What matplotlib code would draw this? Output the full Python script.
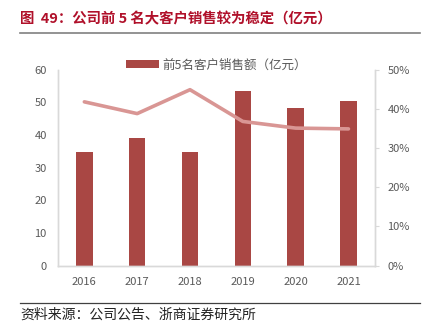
import matplotlib
matplotlib.use('Agg')
import matplotlib.pyplot as plt
from matplotlib.ticker import PercentFormatter
from matplotlib.lines import Line2D

plt.rcParams['font.family'] = ['Noto Sans CJK SC', 'DejaVu Sans']

# data
years = ['2016', '2017', '2018', '2019', '2020', '2021']
sales = [34.7, 39.2, 34.7, 53.4, 48.2, 50.4]      # 亿元
share = [41.8, 38.8, 44.9, 36.8, 35.1, 34.9]      # %

bar_color = '#A94744'
line_color = '#D99694'
grey = '#595959'
spine_grey = '#D9D9D9'

fig = plt.figure(figsize=(4.26, 3.28), dpi=100)
ax = fig.add_axes([0.136, 0.190, 0.744, 0.5975])
ax2 = ax.twinx()

x = range(len(years))
ax.bar(x, sales, width=0.31, color=bar_color, label='前5名客户销售额（亿元）', zorder=2)
ax2.plot(x, share, color=line_color, lw=2.6, solid_capstyle='round', zorder=3)

ax.set_xlim(-0.5, 5.5)
ax.set_ylim(0, 60)
ax.set_yticks(range(0, 61, 10))
ax2.set_ylim(0, 50)
ax2.set_yticks(range(0, 51, 10))
ax2.yaxis.set_major_formatter(PercentFormatter(decimals=0))
ax.set_xticks(list(x))
ax.set_xticklabels(years)

for a in (ax, ax2):
    a.spines['top'].set_visible(False)
    for s in ('left', 'right', 'bottom'):
        a.spines[s].set_color(spine_grey)
        a.spines[s].set_linewidth(1.0)
    a.tick_params(labelsize=8, colors=grey, length=0)
ax.tick_params(axis='y', pad=8)
ax2.tick_params(axis='y', length=3, color=spine_grey, pad=6)
ax.tick_params(axis='x', pad=8)
ax.set_zorder(ax2.get_zorder() - 1)
ax.patch.set_visible(False)

leg = ax.legend(loc='upper center', bbox_to_anchor=(0.5, 1.115), frameon=False,
                fontsize=9, handlelength=2.6, handleheight=0.6, handletextpad=0.3)
for t in leg.get_texts():
    t.set_color(grey)

# title and source lines
fig.text(0.047, 0.94, '图  49：公司前 5 名大客户销售较为稳定（亿元）', fontsize=10.4,
         fontweight='bold', color='#B0102A', va='center')
fig.add_artist(Line2D([0.047, 0.986], [0.899, 0.899], color='#808080', lw=1.2))
fig.add_artist(Line2D([0.047, 0.986], [0.076, 0.076], color='#404040', lw=0.9))
fig.text(0.047, 0.042, '资料来源：公司公告、浙商证券研究所', fontsize=10, color='#222222', va='center')

fig.savefig('out.png', dpi=100)
